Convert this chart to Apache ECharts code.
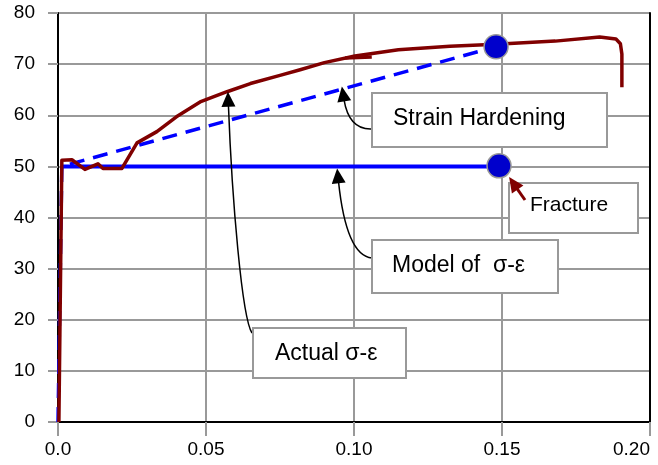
<!DOCTYPE html>
<html>
<head>
<meta charset="utf-8">
<script src="https://cdn.jsdelivr.net/npm/echarts@6/dist/echarts.min.js"></script>
<style>html,body{margin:0;padding:0;background:#fff}#chart{width:658px;height:465px}</style>
</head>
<body>
<div id="chart"></div>
<script>
// measured stress-strain curve (stress in ksi-ish units, strain in in/in)
const actualStrain = [0.0003, 0.0013, 0.0047, 0.0091, 0.0135, 0.0152, 0.0216, 0.0267, 0.0334, 0.040, 0.048, 0.0571, 0.065, 0.075, 0.0818, 0.090, 0.1003, 0.115, 0.1324, 0.148, 0.168, 0.183, 0.1885, 0.1900, 0.1905, 0.1905];
const actualStress = [0, 51.2, 51.3, 49.4, 50.5, 49.6, 49.6, 54.6, 56.8, 59.7, 62.6, 64.6, 66.2, 67.8, 68.9, 70.3, 71.6, 72.8, 73.5, 73.9, 74.5, 75.3, 74.9, 74.0, 72.0, 65.5];
// short stray piece of the actual curve
const strayStrain = [0.097, 0.106];
const strayStress = [71.2, 71.4];
// elastic-perfectly plastic model
const modelStrain = [0.0013, 0.149];
const modelStress = [50, 50];
// strain hardening model
const hardenStrain = [0, 0.0013, 0.148];
const hardenStress = [0, 50, 73.4];
// fracture points
const fractureStrain = [0.148, 0.149];
const fractureStress = [73.4, 50.1];
const xTicks = [0, 0.05, 0.10, 0.15, 0.20];

// annotations: label and the point (data coords) the arrow points to
const noteText = ['Strain Hardening', 'Model of  \u03c3-\u03b5', 'Actual \u03c3-\u03b5', 'Fracture'];
const noteTarget = [[0.0959, 65.6], [0.0943, 49.6], [0.0574, 64.6], [0.1524, 47.9]];

const pairs = (xs, ys) => xs.map((x, i) => [x, ys[i]]);
const font = 'Liberation Sans, Arial, sans-serif';

const chart = echarts.init(document.getElementById('chart'));
chart.setOption({
  animation: false,
  grid: { left: 58, right: 8, top: 13, bottom: 43 },
  xAxis: {
    type: 'value', min: xTicks[0], max: xTicks[xTicks.length - 1], interval: 0.05,
    axisLine: { lineStyle: { color: '#000', width: 2 } },
    axisTick: { show: true, length: 14, lineStyle: { color: '#999', width: 2 } },
    splitLine: { lineStyle: { color: '#999', width: 2 } },
    axisLabel: {
      color: '#000', fontSize: 19, fontFamily: font, margin: 18, alignMaxLabel: 'right',
      formatter: v => v === 0 ? '0.0' : v.toFixed(2)
    }
  },
  yAxis: [{
    type: 'value', min: 0, max: 80, interval: 10,
    axisLine: { show: true, lineStyle: { color: '#000', width: 2 } },
    axisTick: { show: true, length: 10, lineStyle: { color: '#999', width: 2 } },
    splitLine: { lineStyle: { color: '#999', width: 2 } },
    axisLabel: { color: '#000', fontSize: 19, fontFamily: font, margin: 23 }
  }, {
    type: 'value', min: 0, max: 80, position: 'right',
    axisLine: { show: true, lineStyle: { color: '#000', width: 2 } },
    axisTick: { show: false }, axisLabel: { show: false }, splitLine: { show: false }
  }],
  series: [
    {
      type: 'line', data: pairs(hardenStrain, hardenStress), symbol: 'none',
      lineStyle: { color: '#0000ff', width: 3.5, type: [15, 9] }, z: 2
    },
    {
      type: 'line', data: pairs(modelStrain, modelStress), symbol: 'none',
      lineStyle: { color: '#0000ff', width: 4 }, z: 2
    },
    {
      type: 'line', data: pairs(actualStrain, actualStress), symbol: 'none',
      lineStyle: { color: '#800000', width: 3.5, join: 'round' }, z: 3
    },
    {
      type: 'line', data: pairs(strayStrain, strayStress), symbol: 'none',
      lineStyle: { color: '#800000', width: 3.5 }, z: 3
    },
    {
      type: 'scatter', data: pairs(fractureStrain, fractureStress), symbolSize: 24,
      itemStyle: { color: '#0000cc', borderColor: '#999', borderWidth: 1.5, opacity: 1 }, z: 4
    }
  ]
});

// boxes and arrows, placed in pixels; arrow tips come from data coords
const boxes = [
  { x: 372, y: 93, w: 235, h: 54, tx: 393, ty: 119, fs: 23 },
  { x: 372, y: 240, w: 186, h: 53, tx: 392, ty: 266, fs: 23 },
  { x: 253, y: 328, w: 153, h: 50, tx: 275, ty: 354, fs: 23 },
  { x: 509, y: 183, w: 129, h: 50, tx: 530, ty: 205, fs: 21 }
];
const tails = [
  { s: [372, 129], c1: [352, 130], c2: [346, 112] },
  { s: [372, 258], c1: [350, 256], c2: [342, 215] },
  { s: [252, 333], c1: [242, 318], c2: [232, 200] },
  { s: [525, 200], c1: null, c2: null }
];

function arrowHead(tip, from, color, z) {
  const dx = tip[0] - from[0], dy = tip[1] - from[1];
  const len = Math.hypot(dx, dy), ux = dx / len, uy = dy / len;
  const L = 15, W = 7;
  const bx = tip[0] - ux * L, by = tip[1] - uy * L;
  return {
    head: { type: 'polygon', z: z, shape: { points: [tip, [bx - uy * W, by + ux * W], [bx + uy * W, by - ux * W]] }, style: { fill: color } },
    base: [bx + ux * 2, by + uy * 2]
  };
}

const graphic = [];
noteText.forEach((t, i) => {
  const b = boxes[i];
  const tip = chart.convertToPixel({ gridIndex: 0 }, noteTarget[i]);
  const tl = tails[i];
  if (tl.c1) {
    const a = arrowHead(tip, tl.c2, '#000', 20);
    graphic.push({
      type: 'bezierCurve', z: 19,
      shape: { x1: tl.s[0], y1: tl.s[1], cpx1: tl.c1[0], cpy1: tl.c1[1], cpx2: tl.c2[0], cpy2: tl.c2[1], x2: a.base[0], y2: a.base[1] },
      style: { stroke: '#000', lineWidth: 1.5, fill: null }
    });
    graphic.push(a.head);
  } else {
    // the fracture arrow sits on top of its box
    const a = arrowHead(tip, tl.s, '#800000', 24);
    graphic.push({
      type: 'line', z: 23,
      shape: { x1: tl.s[0], y1: tl.s[1], x2: a.base[0], y2: a.base[1] },
      style: { stroke: '#800000', lineWidth: 3 }
    });
    graphic.push(a.head);
  }
  graphic.push({
    type: 'rect', z: 21, shape: { x: b.x, y: b.y, width: b.w, height: b.h },
    style: { fill: '#fff', stroke: '#999', lineWidth: 2 }
  });
  graphic.push({
    type: 'text', z: 22, x: b.tx, y: b.ty,
    style: { text: t, fill: '#000', font: b.fs + 'px ' + font, textVerticalAlign: 'middle', textAlign: 'left' }
  });
});
chart.setOption({ graphic: graphic });
</script>
</body>
</html>
